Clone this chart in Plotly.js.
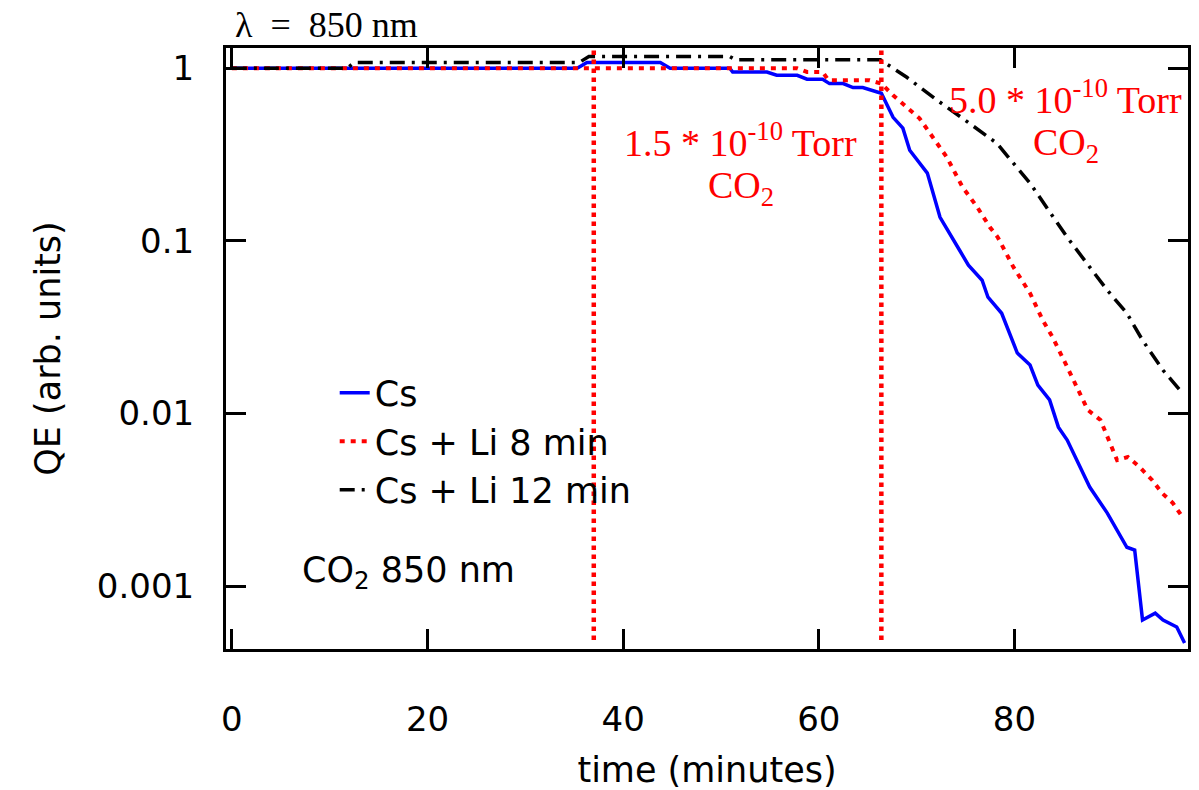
<!DOCTYPE html>
<html>
<head>
<meta charset="utf-8">
<script src="https://cdn.plot.ly/plotly-3.0.1.min.js"></script>
<style>html,body{margin:0;padding:0;background:#fff;}#chart{width:1199px;height:790px;}</style>
</head>
<body>
<div id="chart"></div>
<script>
// Cs
const csTime = [0, 35.3, 36.3, 43.8, 44.8, 50.9, 51.2, 54.7, 55.7, 57.8, 58.8, 60.4, 61.1, 62.5, 63.5, 64.5, 66.4, 67.6, 68.6, 69.3, 71.1, 72.4, 74.4, 75.3, 76.7, 77.3, 78.7, 80.3, 81.6, 82.4, 83.6, 84.5, 85.4, 86.7, 87.7, 89.5, 90.5, 91.5, 92.3, 93.1, 94.4, 95.2, 96.6, 97.4];
const csQE = [1.0, 1.0, 1.08, 1.08, 1.0, 1.0, 0.952, 0.952, 0.911, 0.911, 0.864, 0.864, 0.815, 0.815, 0.773, 0.773, 0.717, 0.52, 0.45, 0.335, 0.247, 0.137, 0.0883, 0.0723, 0.0592, 0.0472, 0.0381, 0.0224, 0.0191, 0.0146, 0.0120, 0.00834, 0.00702, 0.00490, 0.00375, 0.00265, 0.00211, 0.00168, 0.00162, 0.000637, 0.000698, 0.000637, 0.000580, 0.000469];
// Cs + Li 8 min
const li8Time = [0, 35.5, 44.8, 51.6, 57.8, 58.8, 60.4, 61.0, 65.2, 66.4, 67.6, 70.3, 73.1, 74.7, 76.2, 77.5, 78.3, 79.9, 81.6, 82.9, 83.9, 85.4, 86.7, 87.5, 88.8, 89.5, 90.5, 91.6, 92.8, 94.1, 95.1, 96.2, 97.2];
const li8QE = [1.0, 1.0, 1.0, 1.0, 1.0, 0.952, 0.952, 0.852, 0.852, 0.815, 0.698, 0.513, 0.305, 0.205, 0.157, 0.120, 0.105, 0.0705, 0.0498, 0.0347, 0.0277, 0.0186, 0.0131, 0.0105, 0.00917, 0.00730, 0.00537, 0.00560, 0.00490, 0.00411, 0.00346, 0.00303, 0.00251];
// Cs + Li 12 min
const li12Time = [0, 11.8, 12.5, 35.5, 36.5, 50.9, 51.5, 66.3, 69.0, 72.1, 74.7, 78.2, 81.6, 83.3, 85.4, 87.4, 89.5, 91.5, 93.1, 95.2, 97.2];
const li12QE = [1.0, 1.0, 1.08, 1.08, 1.17, 1.17, 1.12, 1.12, 0.887, 0.653, 0.513, 0.368, 0.216, 0.155, 0.105, 0.0743, 0.0518, 0.0381, 0.0266, 0.0178, 0.0131];
// CO2 exposure start times
const exposureTimes = [37.0, 66.4];
const xTicks = [0, 20, 40, 60, 80];
const yTicks = [0.001, 0.01, 0.1, 1];
const yTickText = ['0.001', '0.01', '0.1', '1'];
const seriesNames = ['Cs', 'Cs + Li 8 min', 'Cs + Li 12 min'];

const sans = 'DejaVu Sans, Verdana, sans-serif';
const serif = 'Liberation Serif, DejaVu Serif, serif';

const traces = [
  {x: csTime, y: csQE, name: seriesNames[0], mode: 'lines', line: {color: '#0000ff', width: 3.5}},
  {x: li8Time, y: li8QE, name: seriesNames[1], mode: 'lines', line: {color: '#ff0000', width: 4, dash: '5px,6px'}},
  {x: li12Time, y: li12QE, name: seriesNames[2], mode: 'lines', line: {color: '#000000', width: 3.5, dash: '15px,7px,3px,7px'}}
];

const shapes = exposureTimes.map(t => ({
  type: 'line', xref: 'x', yref: 'paper', x0: t, x1: t, y0: 0.015, y1: 1,
  line: {color: '#ff0000', width: 4.5, dash: 'dot'}
}));

const layout = {
  width: 1199, height: 790,
  margin: {l: 226, r: 11, t: 48, b: 141},
  paper_bgcolor: '#fff', plot_bgcolor: '#fff',
  font: {family: sans, size: 34, color: '#000'},
  showlegend: true,
  legend: {x: 0.113, y: 0.475, xanchor: 'left', yanchor: 'top', bgcolor: 'rgba(0,0,0,0)', font: {family: sans, size: 35}, tracegroupgap: 0},
  xaxis: {
    range: [-0.6, 97.75], tickvals: xTicks, showgrid: false, zeroline: false,
    showline: true, linewidth: 3, linecolor: '#000', mirror: 'ticks',
    ticks: 'inside', ticklen: 20, tickwidth: 3, tickcolor: '#000',
    ticklabelstandoff: 38,
    tickfont: {family: sans, size: 34},
    title: {text: 'time (minutes)', font: {family: sans, size: 35}, standoff: 26}
  },
  yaxis: {
    type: 'log', range: [-3.364, 0.1175], tickvals: yTicks, ticktext: yTickText,
    showgrid: false, zeroline: false,
    showline: true, linewidth: 3, linecolor: '#000', mirror: 'ticks',
    ticks: 'inside', ticklen: 20, tickwidth: 3, tickcolor: '#000',
    ticklabelstandoff: 22,
    tickfont: {family: sans, size: 34},
    title: {text: 'QE (arb. units)', font: {family: sans, size: 35}, standoff: 26}
  },
  shapes: shapes,
  annotations: [
    {xref: 'paper', yref: 'paper', x: 0.007, y: 1.038, xanchor: 'left', yanchor: 'middle', showarrow: false,
     text: 'λ\u2002=\u2002850 nm', font: {family: serif, size: 36, color: '#000'}},
    {xref: 'paper', yref: 'paper', x: 0.535, y: 0.847, xanchor: 'center', yanchor: 'middle', showarrow: false,
     text: '1.5 * 10<sup>-10</sup> Torr', font: {family: serif, size: 38, color: '#ff0000'}},
    {xref: 'paper', yref: 'paper', x: 0.535, y: 0.767, xanchor: 'center', yanchor: 'middle', showarrow: false,
     text: 'CO<sub>2</sub>', font: {family: serif, size: 38, color: '#ff0000'}},
    {xref: 'paper', yref: 'paper', x: 0.873, y: 0.918, xanchor: 'center', yanchor: 'middle', showarrow: false,
     text: '5.0 * 10<sup>-10</sup> Torr', font: {family: serif, size: 38, color: '#ff0000'}},
    {xref: 'paper', yref: 'paper', x: 0.873, y: 0.839, xanchor: 'center', yanchor: 'middle', showarrow: false,
     text: 'CO<sub>2</sub>', font: {family: serif, size: 38, color: '#ff0000'}},
    {xref: 'paper', yref: 'paper', x: 0.077, y: 0.128, xanchor: 'left', yanchor: 'middle', showarrow: false,
     text: 'CO<sub>2</sub> 850 nm', font: {family: sans, size: 35, color: '#000'}}
  ]
};

Plotly.newPlot('chart', traces, layout, {displayModeBar: false, staticPlot: true});
</script>
</body>
</html>
